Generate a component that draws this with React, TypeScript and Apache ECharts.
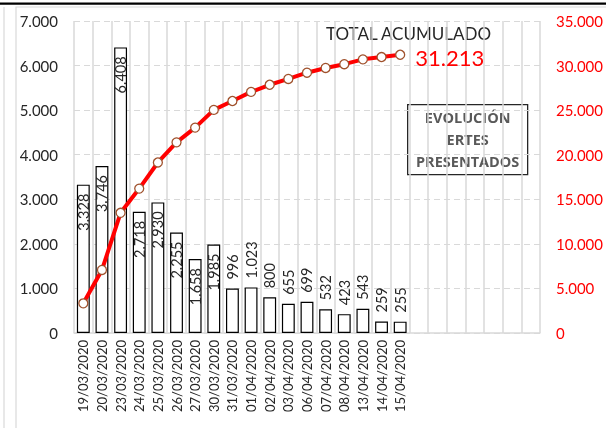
import React, { useEffect, useRef } from "react";
import * as echarts from "echarts";

const dates = [
  "19/03/2020", "20/03/2020", "23/03/2020", "24/03/2020", "25/03/2020", "26/03/2020",
  "27/03/2020", "30/03/2020", "31/03/2020", "01/04/2020", "02/04/2020", "03/04/2020",
  "06/04/2020", "07/04/2020", "08/04/2020", "13/04/2020", "14/04/2020", "15/04/2020",
];
const emptySlots = ["", "", "", "", "", "", ""];
const daily = [3328, 3746, 6408, 2718, 2930, 2255, 1658, 1985, 996, 1023, 800, 655, 699, 532, 423, 543, 259, 255];
const cumulative = [3328, 7074, 13482, 16200, 19130, 21385, 23043, 25028, 26024, 27047, 27847, 28502, 29201, 29733, 30156, 30699, 30958, 31213];
const leftTicks = { min: 0, max: 7000, interval: 1000 };
const rightTicks = { min: 0, max: 35000, interval: 5000 };
const totalTitle = "TOTAL ACUMULADO";
const boxLines = ["EVOLUCIÓN", "ERTES", "PRESENTADOS"];

const FONT = "Lato, 'Open Sans', sans-serif";
const BOLD_FONT = "'Open Sans', 'Noto Sans', sans-serif";
const fmt = (v: number) => (v === 0 ? "0" : v.toLocaleString("de-DE"));

export default function App() {
  const ref = useRef<HTMLDivElement>(null);
  useEffect(() => {
    const chart = echarts.init(ref.current!, null, { renderer: "svg" });
    const categories = [...dates, ...emptySlots];
    const barData = daily.map((v) => {
      const inside = v >= 1500;
      return {
        value: v,
        label: inside
          ? { position: "insideTop", align: "right", verticalAlign: "middle", distance: 9 }
          : { position: "top", align: "left", verticalAlign: "middle", distance: 9 },
      };
    });
    const lineData = cumulative.map((v, i) => ({
      value: v,
      label:
        i === cumulative.length - 1
          ? { show: true, position: "right", distance: 10, offset: [0, 3], lineHeight: 20, formatter: (p: any) => fmt(p.value), color: "#FF0000", fontSize: 22, fontFamily: FONT }
          : { show: false },
    }));
    chart.setOption({
      animation: false,
      textStyle: { fontFamily: FONT },
      grid: { left: 74, right: 63, top: 21, bottom: 95 },
      xAxis: {
        type: "category",
        data: categories,
        boundaryGap: true,
        axisLine: { lineStyle: { color: "#d9d9d9", width: 1.5 } },
        axisTick: { show: false },
        splitLine: { show: true, lineStyle: { color: "#d9d9d9", width: 1.5 } },
        axisLabel: { rotate: 90, interval: 0, margin: 7, color: "#262626", fontSize: 13, fontFamily: FONT },
      },
      yAxis: [
        {
          type: "value",
          ...leftTicks,
          axisLine: { show: false },
          axisTick: { show: false },
          splitLine: { show: true, lineStyle: { color: "#d9d9d9", type: [6, 4], width: 1.2 } },
          axisLabel: { formatter: fmt, margin: 16, color: "#262626", fontSize: 15, fontFamily: FONT },
        },
        {
          type: "value",
          position: "right",
          ...rightTicks,
          axisLine: { show: false },
          axisTick: { show: false },
          splitLine: { show: false },
          axisLabel: { formatter: fmt, margin: 16, color: "#FF0000", fontSize: 15, fontFamily: FONT },
        },
      ],
      series: [
        {
          type: "bar",
          data: barData,
          barCategoryGap: "31%",
          itemStyle: { color: "#ffffff", borderColor: "#000000", borderWidth: 1.2 },
          label: {
            show: true,
            rotate: 90,
            formatter: (p: any) => fmt(p.value),
            color: "#262626",
            fontSize: 14.5,
            fontFamily: FONT,
          },
        },
        {
          type: "line",
          yAxisIndex: 1,
          data: lineData,
          symbol: "circle",
          symbolSize: 9,
          lineStyle: { color: "#FF0000", width: 4 },
          itemStyle: { color: "#ffffff", borderColor: "#A0522D", borderWidth: 1.3 },
          z: 5,
        },
      ],
      graphic: [
        { type: "rect", shape: { x: 4, y: 7, width: 0, height: 430 }, style: { stroke: "#d9d9d9", lineWidth: 1.2, fill: "none" }, silent: true },
        { type: "rect", shape: { x: 16, y: 7, width: 600, height: 430 }, style: { stroke: "#d9d9d9", lineWidth: 1.2, fill: "none" }, silent: true },
        { type: "rect", shape: { x: 0, y: 2.5, width: 606, height: 2.2 }, style: { fill: "#000000" }, silent: true },
        {
          type: "text",
          left: 326,
          top: 25,
          style: { text: totalTitle, fill: "#262626", fontSize: 17, lineHeight: 16, fontFamily: FONT },
        },
        {
          type: "group",
          left: 407,
          top: 104,
          children: [
            { type: "rect", shape: { x: 0, y: 0, width: 120, height: 70 }, style: { fill: "#ffffff", stroke: "#262626", lineWidth: 1.3 } },
            ...boxLines.map((t, i) => ({
              type: "text",
              x: 60,
              y: 13 + i * 22,
              style: {
                text: t,
                fill: "#595959",
                fontSize: 14.5,
                fontWeight: "bold",
                fontFamily: BOLD_FONT,
                align: "center",
                verticalAlign: "middle",
              },
            })),
          ],
        },
      ],
    });
    return () => chart.dispose();
  }, []);
  return <div ref={ref} style={{ position: "fixed", left: 0, top: 0, width: 606, height: 428 }} />;
}
